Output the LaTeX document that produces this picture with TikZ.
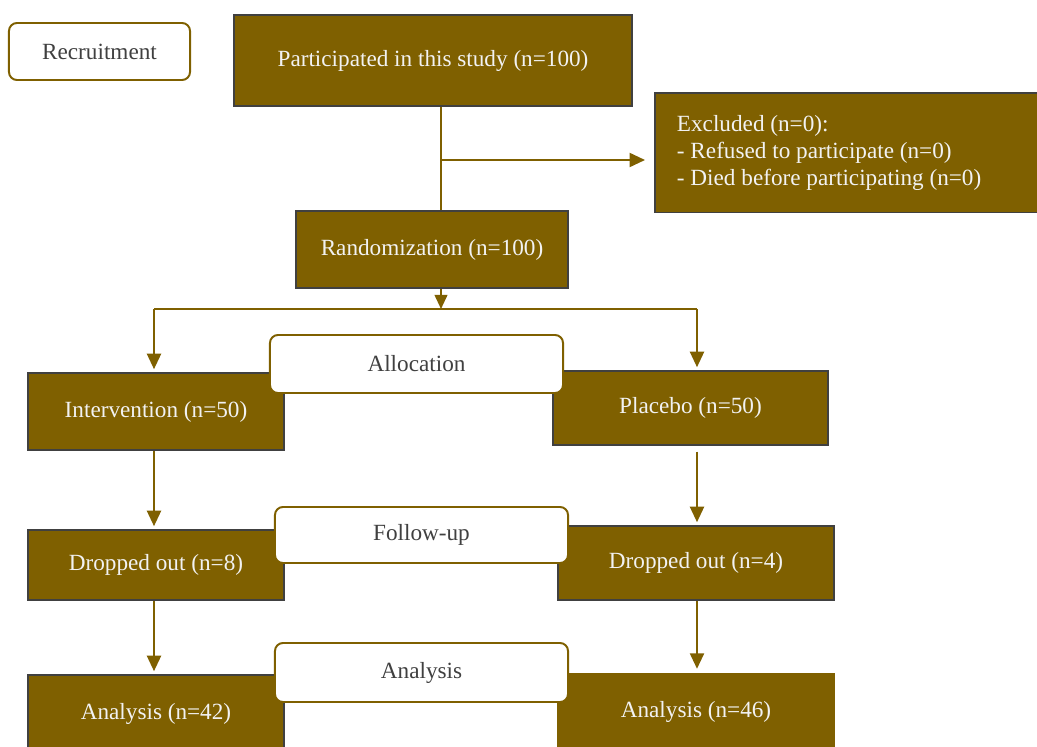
\documentclass[tikz,border=0pt]{standalone}
\usepackage{fontspec}
\setmainfont{Liberation Serif}
\usetikzlibrary{arrows.meta}
\definecolor{gold}{HTML}{7F6000}
\definecolor{edge}{HTML}{404040}
\definecolor{paper}{HTML}{F2F2F2}
\begin{document}
\begin{tikzpicture}[x=0.025cm, y=-0.025cm,
        box/.style={draw=edge, line width=1.4pt, fill=gold, text=paper, inner sep=0pt,
            font=\fontsize{16.5}{19}\selectfont},
        stage/.style={draw=gold, line width=1.4pt, fill=white, text=edge, rounded corners=0.2cm,
            inner sep=0pt, font=\fontsize{16.5}{19}\selectfont},
        link/.style={draw=gold, line width=1.4pt},
        arrow/.style={link, -{Triangle[width=10pt, length=11pt]}}]
        \useasboundingbox (0, 0) rectangle (1037, 747);
        \clip (0, 0) rectangle (1037, 747);
        % boxes
        \node[box, minimum width=9.95cm, minimum height=2.275cm] (part) at (433, 60.5) {Participated in this study (n=100)};
        \node[box, minimum width=9.75cm, minimum height=2.975cm, text width=8.65cm, align=flush left] (excl) at (850, 153)
            {Excluded (n=0):\\- Refused to participate (n=0)\\- Died before participating (n=0)};
        \node[box, minimum width=6.8cm, minimum height=1.925cm] (rand) at (432, 249.5) {Randomization (n=100)};
        \node[box, minimum width=6.4cm, minimum height=1.925cm] (inter) at (156, 411.5) {Intervention (n=50)};
        \node[box, minimum width=6.875cm, minimum height=1.85cm] (plac) at (690.5, 408) {Placebo (n=50)};
        \node[box, minimum width=6.4cm, minimum height=1.75cm] (dropL) at (156, 565) {Dropped out (n=8)};
        \node[box, minimum width=6.9cm, minimum height=1.85cm] (dropR) at (696, 563) {Dropped out (n=4)};
        \node[box, minimum width=6.4cm, minimum height=1.95cm] (anaL) at (156, 714) {Analysis (n=42)};
        \node[box, draw=gold, minimum width=6.9cm, minimum height=1.9cm] (anaR) at (696, 712) {Analysis (n=46)};
        % stages
        \node[stage, minimum width=4.525cm, minimum height=1.425cm] (recruit) at (99.5, 51.5) {Recruitment};
        \node[stage, minimum width=7.325cm, minimum height=1.45cm] (alloc) at (416.5, 364) {Allocation};
        \node[stage, minimum width=7.325cm, minimum height=1.4cm] (follow) at (421.5, 535) {Follow-up};
        \node[stage, minimum width=7.325cm, minimum height=1.475cm] (anaStage) at (421.5, 672.5) {Analysis};
        % connectors
        \coordinate (spine) at (441, 0);
        \coordinate (exclIn) at (645, 160);
        \coordinate (split) at (441, 309);
        \coordinate (left) at (154, 309);
        \coordinate (right) at (697, 309);
        \draw[link] (part.south -| spine) -- (rand.north -| spine);
        \draw[arrow] (spine |- exclIn) -- (exclIn);
        \draw[link, -{Triangle[width=9pt, length=10pt]}] (rand.south -| spine) -- (split);
        \draw[link] (left) -- (right);
        \draw[arrow, shorten >=2pt] (left) -- (inter.north -| left);
        \draw[arrow, shorten >=2pt] (right) -- (plac.north -| right);
        \draw[arrow, shorten >=2pt] (inter.south -| left) -- (dropL.north -| left);
        \draw[arrow, shorten <=4pt, shorten >=2pt] (plac.south -| right) -- (dropR.north -| right);
        \draw[arrow, shorten >=2pt] (dropL.south -| left) -- (anaL.north -| left);
        \draw[arrow, shorten >=3pt] (dropR.south -| right) -- (anaR.north -| right);
    \end{tikzpicture}
\end{document}
